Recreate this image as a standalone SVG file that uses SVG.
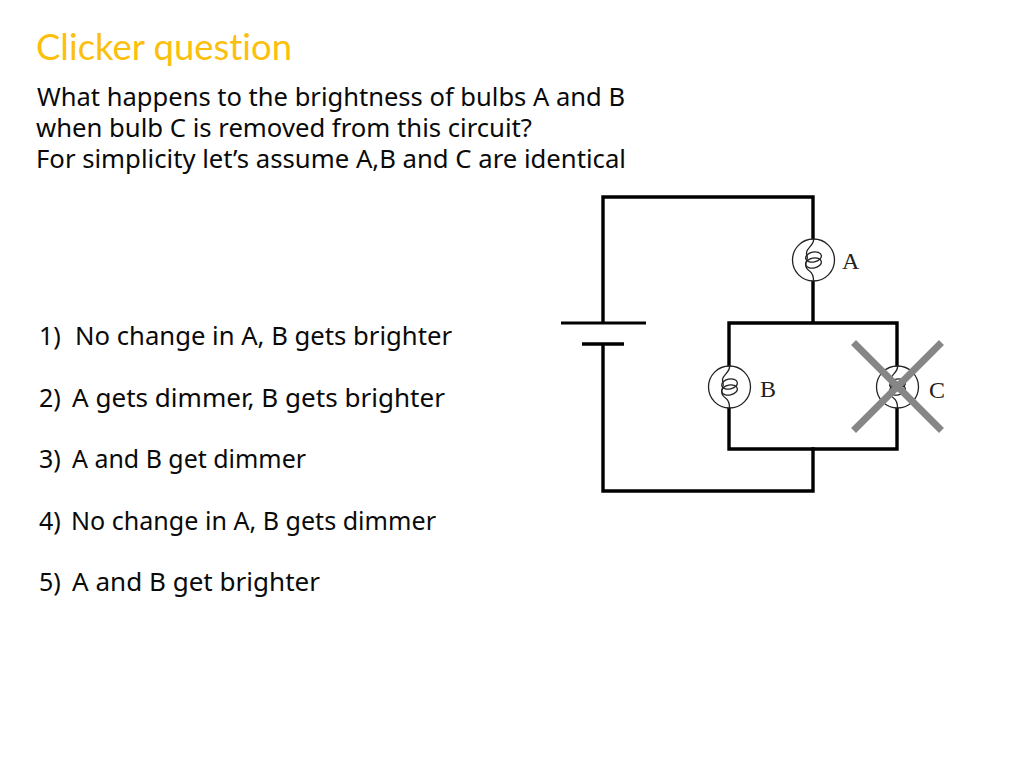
<svg xmlns="http://www.w3.org/2000/svg" width="1024" height="768" viewBox="0 0 1024 768">
<defs>
<style>
.t{font-family:"Noto Sans","DejaVu Sans",sans-serif;font-size:25px;fill:#0a0a0a}
.title{font-family:"Lato","Noto Sans",sans-serif;font-size:36px;fill:#fcc00c;font-variant-ligatures:none}
.lab{font-family:"Liberation Serif",serif;font-size:24px;fill:#222}
.w{fill:none;stroke:#000;stroke-width:3.4;stroke-linecap:square}
.thin{fill:none;stroke:#222;stroke-width:1.3}
.x{stroke:#868686;stroke-width:7;stroke-linecap:square}
</style>
<g id="bulb">
<circle cx="0" cy="0" r="21" fill="#fff" stroke="#222" stroke-width="1.3"/>
<path class="thin" d="M0-21C1-15-7-12-7-7C-7-4-5-3-7 1C-9 6-7 9-4 11C-1 13 0 16 0 21"/>
<ellipse class="thin" cx="0" cy="-3" rx="8" ry="5" transform="rotate(-12 0 -3)"/>
<ellipse class="thin" cx="0" cy="3" rx="8" ry="5" transform="rotate(-12 0 3)"/>
</g>
</defs>
<rect width="1024" height="768" fill="#fff"/>
<text class="title" x="36" y="60" textLength="256" lengthAdjust="spacingAndGlyphs">Clicker question</text>
<text class="t" x="37" y="106" textLength="588" lengthAdjust="spacingAndGlyphs">What happens to the brightness of bulbs A and B</text>
<text class="t" x="36" y="137" textLength="496" lengthAdjust="spacingAndGlyphs">when bulb C is removed from this circuit?</text>
<text class="t" x="36" y="168" textLength="590" lengthAdjust="spacingAndGlyphs">For simplicity let’s assume A,B and C are identical</text>
<text class="t" x="39" y="345">1)</text><text class="t" x="75" y="345" textLength="377" lengthAdjust="spacingAndGlyphs">No change in A, B gets brighter</text>
<text class="t" x="39" y="407">2)</text><text class="t" x="72" y="407" textLength="373" lengthAdjust="spacingAndGlyphs">A gets dimmer, B gets brighter</text>
<text class="t" x="39" y="468">3)</text><text class="t" x="72" y="468" textLength="234" lengthAdjust="spacingAndGlyphs">A and B get dimmer</text>
<text class="t" x="39" y="530">4)</text><text class="t" x="71" y="530" textLength="365" lengthAdjust="spacingAndGlyphs">No change in A, B gets dimmer</text>
<text class="t" x="39" y="591">5)</text><text class="t" x="72" y="591" textLength="248" lengthAdjust="spacingAndGlyphs">A and B get brighter</text>
<g id="connectors">
<path class="w" d="M603 322V197H813V322"/>
<path class="w" d="M603 345V491H813V449"/>
<path class="w" d="M729 449V323H897V449Z"/>
<path d="M561 323H646" stroke="#000" stroke-width="2.8" fill="none"/>
<path d="M582 344H624" stroke="#000" stroke-width="3.4" fill="none"/>
</g>
<g id="bulb-a"><use href="#bulb" x="813.500" y="260"/><text class="lab" x="842" y="269">A</text></g>
<g id="bulb-b"><use href="#bulb" x="729.500" y="387"/><text class="lab" x="760" y="397">B</text></g>
<g id="bulb-c"><use href="#bulb" x="897.500" y="387"/><text class="lab" x="929" y="398">C</text></g>
<g id="cross"><path class="x" d="M856 345L939 428M939 345L856 428"/></g>
</svg>
